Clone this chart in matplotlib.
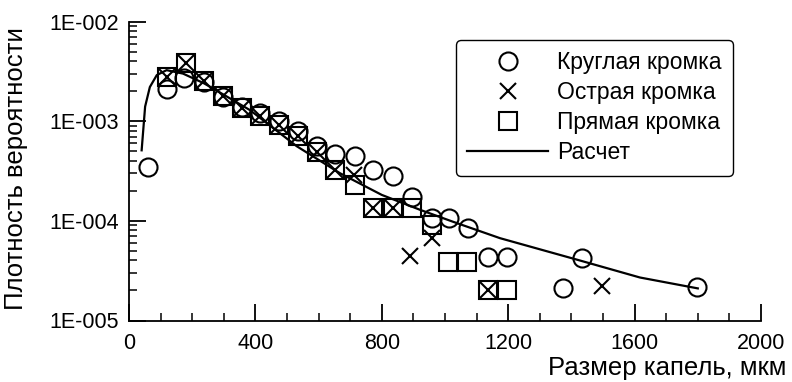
#!/usr/bin/env python3
# -*- coding: utf-8 -*-
"""
Плотность вероятности размера капель: эксперимент (три кромки) и расчет
"""

import matplotlib
matplotlib.use('Agg')
import matplotlib.pyplot as plt
from matplotlib.ticker import FixedLocator, MultipleLocator, LogLocator, NullFormatter

# Круглая кромка
circle_x = [61, 119, 175, 237, 297, 357, 415, 476, 536, 596, 652, 715, 773, 834,
            895, 958, 1014, 1074, 1137, 1195, 1374, 1433, 1796]
circle_y = [3.5e-4, 2.1e-3, 2.7e-3, 2.45e-3, 1.75e-3, 1.4e-3, 1.2e-3, 1.0e-3, 8.0e-4,
            5.6e-4, 4.7e-4, 4.5e-4, 3.2e-4, 2.8e-4, 1.73e-4, 1.08e-4, 1.06e-4, 8.4e-5,
            4.3e-5, 4.3e-5, 2.1e-5, 4.2e-5, 2.15e-5]

# Острая кромка
cross_x = [119, 179, 237, 297, 357, 415, 476, 536, 594, 652, 712, 773, 836, 889,
           958, 1137, 1496]
cross_y = [2.79e-3, 3.86e-3, 2.53e-3, 1.79e-3, 1.37e-3, 1.13e-3, 9.2e-4, 7.1e-4, 4.9e-4,
           3.2e-4, 2.9e-4, 1.34e-4, 1.34e-4, 4.45e-5, 6.7e-5, 2.0e-5, 2.2e-5]

# Прямая кромка
square_x = [119, 179, 237, 297, 357, 415, 476, 536, 594, 652, 715, 773, 836, 895,
            958, 1010, 1069, 1137, 1195]
square_y = [2.79e-3, 3.86e-3, 2.53e-3, 1.79e-3, 1.37e-3, 1.13e-3, 9.2e-4, 7.1e-4, 4.9e-4,
            3.2e-4, 2.3e-4, 1.34e-4, 1.34e-4, 1.34e-4, 9.1e-5, 3.9e-5, 3.9e-5, 2.0e-5, 2.0e-5]

# Расчет
calc_x = [40, 51, 66, 88, 119, 171, 237, 300, 383, 531, 668, 800, 921, 1025, 1174,
          1427, 1617, 1800]
calc_y = [5.1e-4, 1.4e-3, 2.2e-3, 2.9e-3, 3.25e-3, 3.0e-3, 2.4e-3, 1.84e-3, 1.29e-3,
          5.6e-4, 3.0e-4, 1.82e-4, 1.29e-4, 9.8e-5, 6.7e-5, 4.0e-5, 2.7e-5, 2.1e-5]

x_ticks = [0, 400, 800, 1200, 1600, 2000]
y_ticks = [1e-5, 1e-4, 1e-3, 1e-2]
y_tick_labels = ['1E-005', '1E-004', '1E-003', '1E-002']

plt.rcParams['font.family'] = ['Liberation Sans', 'DejaVu Sans']

W, H = 792, 382
fig = plt.figure(figsize=(W / 100, H / 100), dpi=100)
ax = fig.add_axes([129 / W, 1 - 320.5 / H, 632 / W, 299 / H])

mk = dict(linestyle='none', color='black', markerfacecolor='none', markeredgewidth=1.5)
ax.plot(circle_x, circle_y, marker='o', markersize=13, label='Круглая кромка', **mk)
ax.plot(cross_x, cross_y, marker='x', markersize=11.5, label='Острая кромка', **mk)
ax.plot(square_x, square_y, marker='s', markersize=13, label='Прямая кромка', **mk)
ax.plot(calc_x, calc_y, color='black', linewidth=1.6, label='Расчет')

ax.set_yscale('log')
ax.set_xlim(0, 2000)
ax.set_ylim(1e-5, 1e-2)

# оси: только левая и нижняя
for side in ['top', 'right']:
    ax.spines[side].set_visible(False)
for side in ['left', 'bottom']:
    ax.spines[side].set_linewidth(1.3)

ax.xaxis.set_major_locator(FixedLocator(x_ticks))
ax.xaxis.set_minor_locator(MultipleLocator(100))
ax.yaxis.set_major_locator(FixedLocator(y_ticks))
ax.set_yticklabels(y_tick_labels)
ax.yaxis.set_minor_locator(LogLocator(base=10, subs=range(2, 10)))
ax.yaxis.set_minor_formatter(NullFormatter())

ax.tick_params(which='major', direction='in', length=12, width=1.3, labelsize=15.5, pad=7)
ax.tick_params(which='minor', direction='in', length=6, width=1.1)
ax.tick_params(axis='x', which='major', pad=9)

fig.text(16.5 / W, 1 - 169 / H, 'Плотность вероятности', rotation=90,
         ha='center', va='center', fontsize=18.5)
fig.text(786 / W, 1 - 368 / H, 'Размер капель, мкм', ha='right', va='center', fontsize=18.5)

# легенда в рамке со скругленными углами
leg = ax.legend(loc='upper left', bbox_to_anchor=(456 / W, 1 - 40 / H),
                bbox_transform=fig.transFigure, borderaxespad=0, fontsize=16.5,
                handlelength=3.5, handletextpad=0.4, labelspacing=0.3,
                borderpad=0.5, fancybox=True, framealpha=1)
leg.get_frame().set_edgecolor('black')
leg.get_frame().set_linewidth(1.0)

fig.savefig('out.png', dpi=100)
